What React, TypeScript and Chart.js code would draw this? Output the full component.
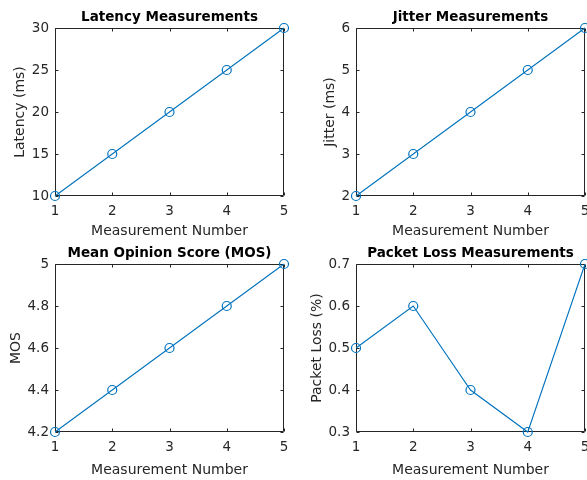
import { useEffect, useRef } from "react";
import { Chart, registerables } from "chart.js";

Chart.register(...registerables);

// Measurement index shared by all four panels
const measurementNumbers = [1, 2, 3, 4, 5];

// Series values
const latencyMs = [10, 15, 20, 25, 30];
const jitterMs = [2, 3, 4, 5, 6];
const mosScores = [4.2, 4.4, 4.6, 4.8, 5.0];
const packetLossPct = [0.5, 0.6, 0.4, 0.3, 0.7];

// Tick values
const xTicks = [1, 2, 3, 4, 5];
const latencyTicks = [10, 15, 20, 25, 30];
const jitterTicks = [2, 3, 4, 5, 6];
const mosTicks = [4.2, 4.4, 4.6, 4.8, 5];
const packetLossTicks = [0.3, 0.4, 0.5, 0.6, 0.7];

const LINE_COLOR = "#0072BD";
const AXIS_COLOR = "#262626";
const FONT = "'DejaVu Sans', 'Liberation Sans', Arial, sans-serif";
const TICK_LEN = 3;

type Panel = {
  title: string;
  yLabel: string;
  values: number[];
  yTicks: number[];
  left: number;
  top: number;
  yAxisWidth: number;
  yLabelPad: number;
  titleTop: number;
  titleBottom: number;
  xAxisHeight: number;
  xLabelPad: number;
};

const panels: Panel[] = [
  {
    title: "Latency Measurements",
    yLabel: "Latency (ms)",
    values: latencyMs,
    yTicks: latencyTicks,
    left: 0,
    top: 0,
    yAxisWidth: 55,
    yLabelPad: 12.4,
    titleTop: 9.2,
    titleBottom: 2.6,
    xAxisHeight: 44,
    xLabelPad: 0,
  },
  {
    title: "Jitter Measurements",
    yLabel: "Jitter (ms)",
    values: jitterMs,
    yTicks: jitterTicks,
    left: 300,
    top: 0,
    yAxisWidth: 56,
    yLabelPad: 21.6,
    titleTop: 9.2,
    titleBottom: 2.6,
    xAxisHeight: 44,
    xLabelPad: 0,
  },
  {
    title: "Mean Opinion Score (MOS)",
    yLabel: "MOS",
    values: mosScores,
    yTicks: mosTicks,
    left: 0,
    top: 240,
    yAxisWidth: 55,
    yLabelPad: 7.9,
    titleTop: 5.6,
    titleBottom: 2.2,
    xAxisHeight: 48,
    xLabelPad: 1,
  },
  {
    title: "Packet Loss Measurements",
    yLabel: "Packet Loss (%)",
    values: packetLossPct,
    yTicks: packetLossTicks,
    left: 300,
    top: 240,
    yAxisWidth: 56,
    yLabelPad: 9.1,
    titleTop: 5.6,
    titleBottom: 2.2,
    xAxisHeight: 48,
    xLabelPad: 1,
  },
];

const CANVAS_W = 300;
const CANVAS_H = 240;
const PLOT_W = 229;

// Centre each panel title over its plot area rather than the whole canvas
const titleOverPlot = {
  id: "titleOverPlot",
  afterLayout(chart: any) {
    const tb = chart.titleBlock;
    if (!tb) return;
    tb.left = chart.chartArea.left;
    tb.right = chart.chartArea.right;
    tb.width = tb.right - tb.left;
  },
};

// Box around the plot area with short inward tick marks on all four sides
const axesBox = {
  id: "axesBox",
  beforeDatasetsDraw(chart: any) {
    const { ctx, chartArea: a, scales } = chart;
    const l = Math.floor(a.left) + 0.5;
    const t = Math.floor(a.top) + 0.5;
    const r = Math.round(a.right) - 0.5;
    const b = Math.round(a.bottom) - 0.5;
    ctx.save();
    ctx.strokeStyle = AXIS_COLOR;
    ctx.lineWidth = 1;
    ctx.beginPath();
    ctx.rect(l, t, r - l, b - t);
    for (const tk of scales.x.ticks) {
      const px = Math.round(scales.x.getPixelForValue(tk.value)) + 0.5;
      ctx.moveTo(px, b);
      ctx.lineTo(px, b - TICK_LEN);
      ctx.moveTo(px, t);
      ctx.lineTo(px, t + TICK_LEN);
    }
    for (const tk of scales.y.ticks) {
      const py = Math.round(scales.y.getPixelForValue(tk.value)) + 0.5;
      ctx.moveTo(l, py);
      ctx.lineTo(l + TICK_LEN, py);
      ctx.moveTo(r, py);
      ctx.lineTo(r - TICK_LEN, py);
    }
    ctx.stroke();
    ctx.restore();
  },
};

function SubPlot({ panel }: { panel: Panel }) {
  const ref = useRef<HTMLCanvasElement | null>(null);

  useEffect(() => {
    if (!ref.current) return;
    const rightPad = CANVAS_W - panel.yAxisWidth - PLOT_W;
    const yMin = panel.yTicks[0];
    const yMax = panel.yTicks[panel.yTicks.length - 1];
    const chart = new Chart(ref.current, {
      type: "line",
      data: {
        datasets: [
          {
            data: measurementNumbers.map((x, i) => ({ x, y: panel.values[i] })),
            borderColor: LINE_COLOR,
            borderWidth: 1.1,
            pointStyle: "circle",
            pointRadius: 4.5,
            pointBorderWidth: 1.2,
            pointBorderColor: LINE_COLOR,
            pointBackgroundColor: "rgba(0,0,0,0)",
            tension: 0,
            clip: false as any,
          },
        ],
      },
      options: {
        responsive: false,
        animation: false,
        layout: { padding: { left: 0, right: rightPad, top: 0, bottom: 0 } },
        plugins: {
          legend: { display: false },
          tooltip: { enabled: false },
          title: {
            display: true,
            text: panel.title,
            color: "#000000",
            font: { family: FONT, size: 13.5, weight: "bold", lineHeight: 1.2 },
            padding: { top: panel.titleTop, bottom: panel.titleBottom },
          },
        },
        scales: {
          x: {
            type: "linear",
            min: xTicks[0],
            max: xTicks[xTicks.length - 1],
            grid: { display: false, drawTicks: false },
            border: { display: false },
            afterBuildTicks: (s: any) => {
              s.ticks = xTicks.map((v) => ({ value: v }));
            },
            afterFit: (s: any) => {
              s.height = panel.xAxisHeight;
            },
            ticks: {
              color: AXIS_COLOR,
              padding: 7,
              maxRotation: 0,
              font: { family: FONT, size: 13.5, lineHeight: 1.2 },
              callback: (v: any) => String(v),
            },
            title: {
              display: true,
              text: "Measurement Number",
              color: AXIS_COLOR,
              font: { family: FONT, size: 14, lineHeight: 1.2 },
              padding: { top: 0, bottom: panel.xLabelPad },
            },
          },
          y: {
            type: "linear",
            min: yMin,
            max: yMax,
            grid: { display: false, drawTicks: false },
            border: { display: false },
            afterBuildTicks: (s: any) => {
              s.ticks = panel.yTicks.map((v) => ({ value: v }));
            },
            afterFit: (s: any) => {
              s.width = panel.yAxisWidth;
            },
            ticks: {
              color: AXIS_COLOR,
              padding: 6,
              font: { family: FONT, size: 13.5, lineHeight: 1.2 },
              callback: (v: any) => String(Number(v)),
            },
            title: {
              display: true,
              text: panel.yLabel,
              color: AXIS_COLOR,
              font: { family: FONT, size: 14, lineHeight: 1.2 },
              padding: { top: panel.yLabelPad, bottom: 0 },
            },
          },
        },
      },
      plugins: [titleOverPlot, axesBox],
    });
    return () => chart.destroy();
  }, [panel]);

  return (
    <canvas
      ref={ref}
      width={CANVAS_W}
      height={CANVAS_H}
      style={{
        position: "absolute",
        left: panel.left,
        top: panel.top,
        width: CANVAS_W,
        height: CANVAS_H,
      }}
    />
  );
}

export default function App() {
  return (
    <div
      style={{
        position: "fixed",
        left: 0,
        top: 0,
        width: 587,
        height: 480,
        overflow: "hidden",
        background: "#ffffff",
      }}
    >
      {panels.map((p) => (
        <SubPlot key={p.title} panel={p} />
      ))}
    </div>
  );
}
